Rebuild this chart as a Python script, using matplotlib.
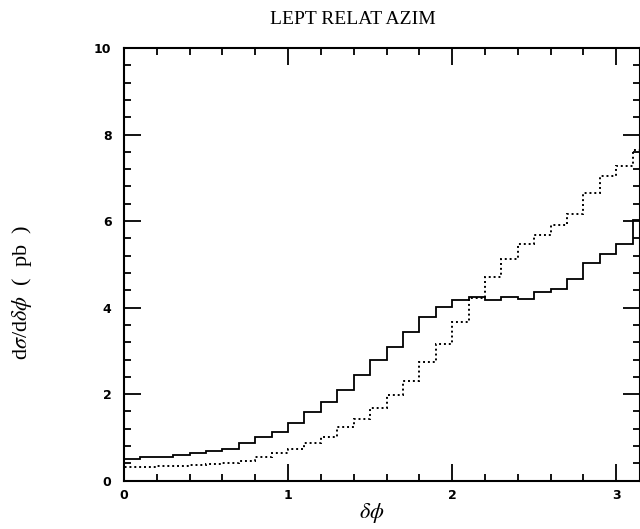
import matplotlib
matplotlib.use("Agg")
import matplotlib.pyplot as plt
import numpy as np

# bin edges: 0.1 wide, last bin runs to pi
edges = [0.0, 0.1, 0.2, 0.3, 0.4, 0.5, 0.6, 0.7, 0.8, 0.9, 1.0,
         1.1, 1.2, 1.3, 1.4, 1.5, 1.6, 1.7, 1.8, 1.9, 2.0,
         2.1, 2.2, 2.3, 2.4, 2.5, 2.6, 2.7, 2.8, 2.9, 3.0, 3.1, np.pi]

solid = [0.50, 0.54, 0.54, 0.59, 0.64, 0.68, 0.74, 0.87, 1.01, 1.12,
         1.33, 1.58, 1.81, 2.10, 2.44, 2.78, 3.08, 3.43, 3.78, 4.01,
         4.17, 4.25, 4.18, 4.25, 4.19, 4.35, 4.44, 4.66, 5.02, 5.24,
         5.46, 6.03]

dotted = [0.31, 0.32, 0.33, 0.35, 0.37, 0.39, 0.41, 0.46, 0.55, 0.65,
          0.74, 0.87, 1.02, 1.23, 1.42, 1.69, 1.98, 2.30, 2.74, 3.17,
          3.67, 4.23, 4.71, 5.12, 5.47, 5.68, 5.91, 6.16, 6.65, 7.05,
          7.28, 7.64]

plt.rcParams['mathtext.fontset'] = 'stix'

fig = plt.figure(figsize=(6.4, 5.29), dpi=100)
ax = fig.add_axes([124 / 640, 48.3 / 529, (639.5 - 124) / 640, (481 - 48.3) / 529])

ax.stairs(solid, edges, color='black', lw=1.3)
ax.stairs(dotted, edges, color='black', lw=1.4, linestyle=(0, (1, 1.5)))

ax.set_xlim(0, np.pi)
ax.set_ylim(0, 10)
ax.set_xticks([0, 1, 2, 3])
ax.set_xticks(np.arange(0, 3.15, 0.2), minor=True)
ax.set_yticks([0, 2, 4, 6, 8, 10])
ax.set_yticks(np.arange(0, 10.01, 0.4), minor=True)
ax.tick_params(which='both', direction='in', top=True, right=True, width=1.3)
ax.tick_params(which='major', length=12)
ax.tick_params(which='minor', length=5)
ax.tick_params(axis='x', pad=6)
ax.tick_params(axis='y', pad=9)
for lab in ax.get_xticklabels() + ax.get_yticklabels():
    lab.set_fontweight('bold')
    lab.set_fontsize(9)
for s in ax.spines.values():
    s.set_linewidth(1.5)

fig.text(353 / 640, 1 - 20 / 529, 'LEPT RELAT AZIM', ha='center', va='center',
         family='Liberation Serif', fontsize=14)
fig.text(372 / 640, 1 - 513 / 529, r'$\delta\phi$', ha='center', va='center',
         fontsize=16)
fig.text(22 / 640, 1 - 292 / 529, r'd$\sigma$/d$\delta\phi$  (  pb  )', ha='center',
         va='center', rotation=90, family='Liberation Serif', fontsize=16)

fig.savefig('out.png', dpi=100)
